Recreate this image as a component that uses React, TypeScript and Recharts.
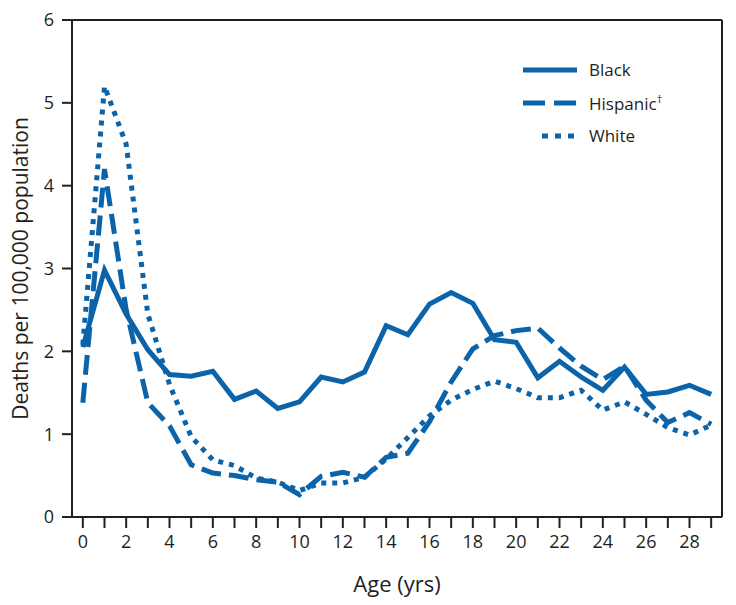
import React from 'react';
import { LineChart, Line, XAxis, YAxis, ReferenceLine, Legend, Label } from 'recharts';

const ages = [0, 1, 2, 3, 4, 5, 6, 7, 8, 9, 10, 11, 12, 13, 14, 15, 16, 17, 18, 19, 20, 21, 22, 23, 24, 25, 26, 27, 28, 29];
const black = [2.05, 2.98, 2.45, 2.02, 1.72, 1.7, 1.76, 1.42, 1.52, 1.31, 1.39, 1.69, 1.63, 1.75, 2.31, 2.2, 2.57, 2.71, 2.58, 2.14, 2.11, 1.68, 1.88, 1.69, 1.53, 1.81, 1.48, 1.51, 1.59, 1.48];
const hispanic = [1.38, 4.2, 2.5, 1.38, 1.1, 0.63, 0.53, 0.5, 0.45, 0.42, 0.27, 0.49, 0.54, 0.48, 0.72, 0.77, 1.15, 1.63, 2.03, 2.19, 2.25, 2.28, 2.04, 1.82, 1.66, 1.82, 1.41, 1.14, 1.26, 1.12];
const white = [2.08, 5.2, 4.5, 2.45, 1.6, 0.97, 0.69, 0.62, 0.47, 0.42, 0.32, 0.41, 0.41, 0.48, 0.7, 0.96, 1.22, 1.41, 1.54, 1.64, 1.55, 1.44, 1.44, 1.53, 1.29, 1.39, 1.24, 1.08, 0.99, 1.11];
const yTicks = [0, 1, 2, 3, 4, 5, 6];

const data = ages.map((age, i) => ({ age, black: black[i], hispanic: hispanic[i], white: white[i] }));

const BLUE = '#0b63aa';
const INK = '#231f20';
const FONT = '"Open Sans", sans-serif';

const series = [
  { key: 'black', name: 'Black', dash: undefined as string | undefined, legendDash: undefined as string | undefined },
  { key: 'hispanic', name: 'Hispanic', dash: '20 8', legendDash: '22 9' },
  { key: 'white', name: 'White', dash: '5 6', legendDash: '6 7' },
];

const renderLegend = () => (
  <div style={{ fontFamily: FONT, fontSize: 17, color: INK }}>
    {series.map(s => (
      <div key={s.key} style={{ display: 'flex', alignItems: 'center', height: 33 }}>
        <svg width={66} height={10}>
          <line
            x1={s.key === 'white' ? 19 : 0}
            x2={54}
            y1={5}
            y2={5}
            stroke={BLUE}
            strokeWidth={5}
            strokeDasharray={s.legendDash}
          />
        </svg>
        <span>
          {s.name}
          {s.key === 'hispanic' && <sup style={{ fontSize: 11 }}>†</sup>}
        </span>
      </div>
    ))}
  </div>
);

export default function App() {
  return (
    <div style={{ position: 'absolute', left: 0, top: 0 }}>
      <LineChart width={736} height={605} data={data} margin={{ top: 20, right: 14, bottom: 0, left: 0 }}>
        <XAxis
          dataKey="age"
          type="number"
          domain={[-0.5, 29.5]}
          ticks={ages}
          interval={0}
          tickFormatter={(v: number) => (v % 2 === 0 ? String(v) : '')}
          tickSize={11}
          tickMargin={7}
          height={88}
          stroke={INK}
          strokeWidth={2}
          tick={{ fill: INK, fontSize: 18, fontFamily: FONT }}
        >
          <Label value="Age (yrs)" position="insideBottom" offset={13} style={{ fill: INK, fontSize: 22, fontFamily: FONT }} />
        </XAxis>
        <YAxis
          type="number"
          domain={[0, 6]}
          ticks={yTicks}
          interval={0}
          width={72}
          tickSize={10}
          tickMargin={8}
          stroke={INK}
          strokeWidth={2}
          tick={{ fill: INK, fontSize: 18, fontFamily: FONT }}
        >
          <Label
            value="Deaths per 100,000 population"
            angle={-90}
            position="insideLeft"
            offset={21}
            style={{ fill: INK, fontSize: 21, fontFamily: FONT, textAnchor: 'middle' }}
          />
        </YAxis>
        <ReferenceLine y={6} stroke={INK} strokeWidth={2} />
        <ReferenceLine x={29.5} stroke={INK} strokeWidth={2} />
        <Legend
          layout="vertical"
          align="center"
          verticalAlign="middle"
          content={renderLegend}
          wrapperStyle={{ position: 'absolute', left: 523, top: 53, width: 180 }}
        />
        {series.map(s => (
          <Line
            key={s.key}
            dataKey={s.key}
            name={s.name}
            type="linear"
            stroke={BLUE}
            strokeWidth={5}
            strokeDasharray={s.dash}
            strokeLinejoin="miter"
            dot={false}
            activeDot={false}
            isAnimationActive={false}
          />
        ))}
      </LineChart>
    </div>
  );
}
